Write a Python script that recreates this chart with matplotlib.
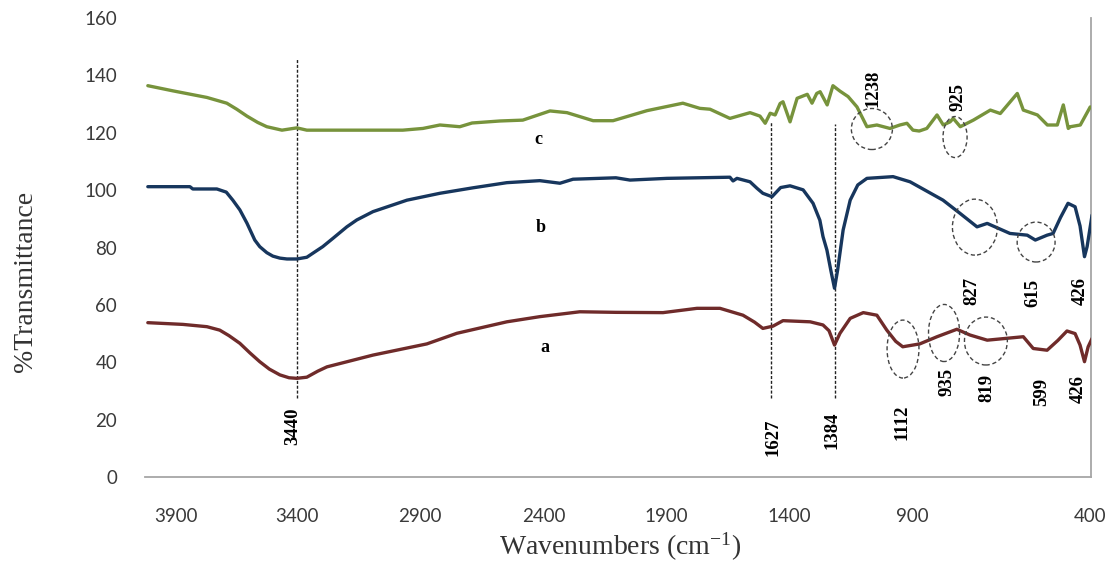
import matplotlib
matplotlib.use("Agg")
import matplotlib.pyplot as plt
from matplotlib.patches import Ellipse

# ---- spectra (wavenumber, %T) ----
wn_a = [4010, 3876, 3784, 3735, 3700, 3658, 3620, 3582, 3545, 3505, 3470, 3440, 3402, 3360,
        3325, 3149, 2943, 2828, 2637, 2511, 2358, 2220, 2040, 1910, 1822, 1734, 1690, 1658,
        1619, 1581, 1477, 1428, 1405, 1384, 1363, 1324, 1274, 1222, 1184, 1150, 1123, 1058,
        992, 916, 866, 800, 662, 624, 571, 530, 495, 464, 445, 428, 414, 399]
t_a = [53.8, 53.2, 52.4, 51.2, 49.3, 46.6, 43.3, 40.2, 37.6, 35.6, 34.6, 34.4, 34.8, 36.9,
       38.4, 42.5, 46.4, 50.1, 54.1, 55.9, 57.6, 57.4, 57.3, 58.8, 58.8, 56.4, 54.0, 51.8,
       52.6, 54.5, 54.1, 53.0, 51.0, 46.0, 50.1, 55.3, 57.3, 56.4, 51.2, 47.3, 45.4, 46.4,
       48.9, 51.5, 49.5, 47.7, 48.9, 44.8, 44.2, 47.6, 50.9, 50.0, 46.0, 40.2, 45.4, 48.3]

wn_b = [4010, 3849, 3838, 3746, 3710, 3685, 3658, 3631, 3601, 3582, 3555, 3532, 3505, 3478,
        3440, 3402, 3379, 3341, 3302, 3249, 3211, 3149, 3019, 2893, 2767, 2637, 2511, 2434,
        2384, 2220, 2166, 2025, 1784, 1772, 1757, 1707, 1680, 1658, 1623, 1590, 1554, 1504,
        1466, 1440, 1428, 1413, 1398, 1384, 1372, 1351, 1324, 1295, 1260, 1160, 1095, 969,
        904, 839, 800, 713, 647, 616, 571, 548, 520, 491, 464, 445, 428, 418, 399]
t_b = [101.2, 101.2, 100.4, 100.4, 99.3, 96.5, 93.1, 88.5, 82.6, 80.3, 78.2, 77.0, 76.3, 76.0,
       76.0, 76.6, 78.0, 80.3, 83.2, 87.2, 89.6, 92.5, 96.5, 98.9, 100.8, 102.6, 103.3, 102.4,
       103.8, 104.3, 103.5, 104.1, 104.5, 103.2, 104.1, 102.9, 100.6, 98.9, 97.7, 100.9, 101.5,
       100.1, 95.4, 89.5, 83.8, 79.1, 72.0, 65.8, 72.2, 86.1, 96.5, 101.8, 104.1, 104.7, 102.9,
       96.5, 91.9, 87.2, 88.4, 84.9, 84.3, 82.6, 84.3, 84.9, 90.4, 95.4, 94.2, 87.5, 76.8, 80.3,
       91.3]

wn_c = [4010, 3914, 3784, 3708, 3670, 3631, 3590, 3555, 3497, 3440, 3402, 3276, 3035, 2958,
        2893, 2817, 2770, 2663, 2576, 2472, 2407, 2307, 2231, 2101, 1964, 1899, 1860, 1784,
        1707, 1669, 1649, 1630, 1611, 1592, 1581, 1554, 1527, 1488, 1470, 1452, 1439, 1412,
        1390, 1363, 1332, 1298, 1260, 1222, 1172, 1134, 1107, 1084, 1060, 1031, 992, 968,
        942, 930, 903, 853, 788, 750, 685, 662, 608, 570, 532, 509, 490, 482, 444, 406]
t_c = [136.4, 134.6, 132.3, 130.3, 128.2, 125.8, 123.6, 122.1, 120.9, 121.7, 120.9, 120.9,
       120.9, 121.5, 122.7, 122.1, 123.4, 124.1, 124.4, 127.6, 127.0, 124.2, 124.2, 127.7,
       130.3, 128.5, 128.2, 125.0, 127.0, 125.8, 123.3, 126.8, 126.2, 130.2, 130.8, 123.8,
       132.0, 133.4, 130.3, 133.7, 134.3, 129.7, 136.4, 134.5, 132.6, 129.0, 122.1, 122.7,
       121.5, 122.7, 123.3, 120.9, 120.6, 121.5, 126.2, 122.7, 123.8, 125.0, 122.1, 124.4,
       127.9, 126.7, 133.7, 127.9, 126.2, 122.7, 122.7, 129.7, 121.5, 122.1, 122.7, 129.0]

series_names = ["a", "b", "c"]
series_colors = ["#6f2b2a", "#17365d", "#77933c"]

# ---- axis ticks ----
x_tick_labels = ["3900", "3400", "2900", "2400", "1900", "1400", "900", "400"]
x_tick_pos = [3903, 3440, 2970, 2495, 2029, 1558, 1088, 407]
y_ticks = [0, 20, 40, 60, 80, 100, 120, 140, 160]

# ---- band assignments ----
guide_bands = [3440, 1627, 1384]
guide_top = [146, 123.8, 123.0]
guide_bottom = 27.5

band_labels = ["3440", "1627", "1384", "1112", "935", "819", "599", "426",
               "827", "615", "426", "1238", "925"]
band_label_xy = [(3455, 17.6), (1619, 14.0), (1394, 16.4), (1126, 19.0), (954, 33.0),
                 (801, 31.2), (590, 29.8), (453, 30.8), (858, 65.0), (625, 64.3),
                 (445, 65.0), (1237, 135.6), (912, 132.6)]

# ellipses: (centre wn, centre %T, width in wn, height in %T)
ring_bands = [(1241, 121.3, 157, 14.3), (923, 118.5, 92, 14.3), (847, 87.1, 172, 19.5),
              (613, 81.9, 145, 13.9), (1122, 44.6, 122, 20.2), (965, 50.2, 119, 19.9),
              (805, 47.4, 164, 16.7)]

series_label_xy = [(2491, 45.3), (2507, 87.1), (2518, 117.5)]

plt.rcParams["mathtext.fontset"] = "stix"

fig = plt.figure(figsize=(11.15, 5.62), dpi=100)
ax = fig.add_axes([0.130, 0.1512, 0.8485, 0.8168])

for wn, t, col in zip([wn_a, wn_b, wn_c], [t_a, t_b, t_c], series_colors):
    ax.plot(wn, t, color=col, lw=2.4, solid_joinstyle="round", solid_capstyle="round",
            zorder=3)

for x, top in zip(guide_bands, guide_top):
    ax.plot([x, x], [guide_bottom, top], color="#222222", lw=1.0,
            linestyle=(0, (2.2, 1.3)), zorder=2)

for (cx, cy, w, h) in ring_bands:
    ax.add_patch(Ellipse((cx, cy), w, h, fill=False, edgecolor="#444444", lw=1.0,
                         linestyle=(0, (3, 2)), zorder=4))

for txt, (x, y) in zip(band_labels, band_label_xy):
    ax.text(x, y, txt, rotation=90, ha="center", va="center", fontsize=13.5,
            fontweight="bold", family="Liberation Serif", color="black", zorder=5)

for name, (x, y) in zip(series_names, series_label_xy):
    ax.text(x, y, name, ha="center", va="center", fontsize=13, fontweight="bold",
            family="Liberation Serif", color="black")

ax.set_xlim(4021, 403)
ax.set_ylim(0, 160)
ax.set_xticks(x_tick_pos)
ax.set_xticklabels(x_tick_labels)
ax.set_yticks(y_ticks)
ax.tick_params(axis="both", length=0, labelsize=13.5, labelcolor="#3a3a3a")
ax.tick_params(axis="x", pad=22)
ax.tick_params(axis="y", pad=20)
for lab in ax.get_xticklabels() + ax.get_yticklabels():
    lab.set_family("Lato")

for side in ["left", "top"]:
    ax.spines[side].set_visible(False)
for side in ["bottom", "right"]:
    ax.spines[side].set_color("#a6a6a6")
    ax.spines[side].set_linewidth(1.3)

fig.text(0.0225, 0.50, "%Transmittance", rotation=90, ha="center", va="center",
         fontsize=20, family="Liberation Serif", color="#333333")
fig.text(0.556, 0.027, r"Wavenumbers (cm$^{\mathregular{-1}}$)", ha="center", va="center",
         fontsize=20, family="Liberation Serif", color="#333333")

fig.savefig("out.png", dpi=100)
